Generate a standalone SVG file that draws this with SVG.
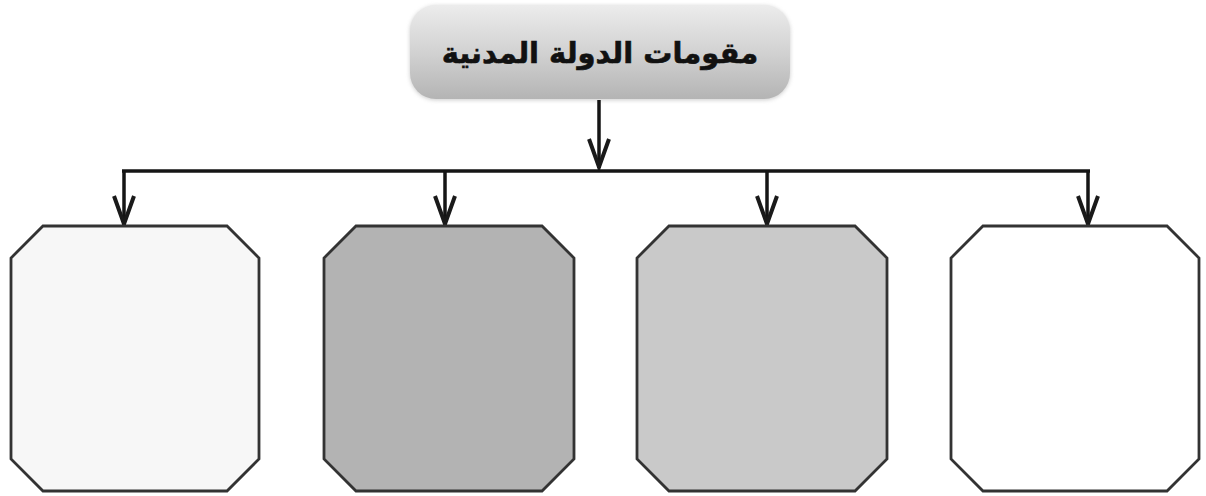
<svg xmlns="http://www.w3.org/2000/svg" width="1206" height="496" viewBox="0 0 1206 496">
<defs>
<linearGradient id="g" x1="0" y1="0" x2="0" y2="1">
<stop offset="0" stop-color="#ececec"/>
<stop offset="0.5" stop-color="#d2d2d2"/>
<stop offset="1" stop-color="#b4b4b4"/>
</linearGradient>
<filter id="blur" x="-10%" y="-20%" width="120%" height="140%"><feGaussianBlur stdDeviation="2"/></filter>
<marker id="ah" markerWidth="34" markerHeight="28" refX="32" refY="14" orient="auto" markerUnits="userSpaceOnUse" viewBox="0 0 34 28">
<path d="M3,4 L31,14 L3,24" fill="none" stroke="#1a1a1a" stroke-width="4" stroke-linejoin="miter"/>
</marker>
</defs>
<style>
.box{stroke:#333;stroke-width:2.8;stroke-linejoin:miter}
.con{fill:none;stroke:#151515;stroke-width:3.5}
.title{font-family:"DejaVu Sans",sans-serif;font-weight:bold;font-size:29px;fill:#111;stroke:#111;stroke-width:0.6}
</style>
<rect width="1206" height="496" fill="#fff"/>
<g id="root">
<rect x="410" y="6" width="380" height="94" rx="26" fill="#999" opacity="0.5" filter="url(#blur)"/>
<rect x="410" y="5" width="380" height="94" rx="26" fill="url(#g)"/>
<text class="title" x="600" y="63" text-anchor="middle" direction="rtl">مقومات الدولة المدنية</text>
</g>
<g id="connectors">
<line class="con" x1="599" y1="100" x2="599" y2="168" marker-end="url(#ah)"/>
<line class="con" x1="122" y1="171" x2="1090" y2="171"/>
<path class="con" d="M124,171 V225" marker-end="url(#ah)"/>
<path class="con" d="M445,171 V225" marker-end="url(#ah)"/>
<path class="con" d="M767,171 V225" marker-end="url(#ah)"/>
<path class="con" d="M1088,171 V225" marker-end="url(#ah)"/>
</g>
<g id="box1"><polygon class="box" fill="#f7f7f7" points="43,226 227,226 259,258 259,459 227,491 43,491 11,459 11,258"/></g>
<g id="box2"><polygon class="box" fill="#b3b3b3" points="356,226 542,226 574,258 574,459 542,491 356,491 324,459 324,258"/></g>
<g id="box3"><polygon class="box" fill="#c9c9c9" points="669,226 855,226 887,258 887,459 855,491 669,491 637,459 637,258"/></g>
<g id="box4"><polygon class="box" fill="#ffffff" points="983,226 1167,226 1199,258 1199,459 1167,491 983,491 951,459 951,258"/></g>
</svg>
